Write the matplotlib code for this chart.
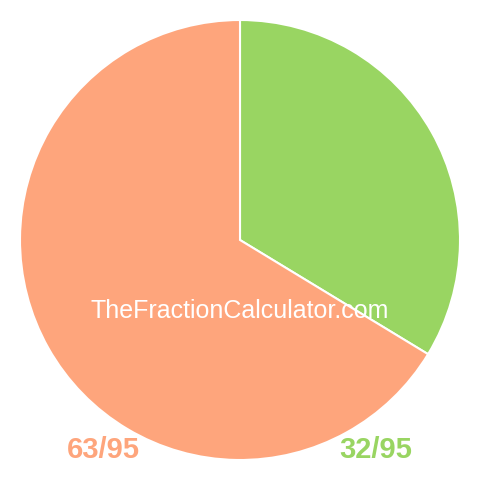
import matplotlib
matplotlib.use("Agg")
import matplotlib.pyplot as plt

labels = ["32/95", "63/95"]
values = [32, 63]
colors = ["#99d562", "#fea57c"]
watermark = "TheFractionCalculator.com"

fig = plt.figure(figsize=(4.8, 4.8), dpi=100)
ax = fig.add_axes([0, 0, 1, 1])

# pie starts at top and runs clockwise
ax.pie(values, colors=colors, startangle=90, counterclock=False,
       radius=1.0, center=(0, 0),
       wedgeprops=dict(edgecolor="white", linewidth=1.5))

lim = 240 / 220
ax.set_xlim(-lim, lim)
ax.set_ylim(-lim, lim)
ax.set_aspect("equal")
ax.axis("off")

ax.text(0, -71 / 220, watermark, color="white", fontsize=18,
        family="Liberation Sans", ha="center", va="center")

# fraction labels under the pie
ax.text(-137 / 220, -210 / 220, labels[1], color=colors[1], fontsize=21,
        family="Liberation Sans", fontweight="bold", ha="center", va="center")
ax.text(136 / 220, -210 / 220, labels[0], color=colors[0], fontsize=21,
        family="Liberation Sans", fontweight="bold", ha="center", va="center")

fig.savefig("out.png", dpi=100, facecolor="white")
